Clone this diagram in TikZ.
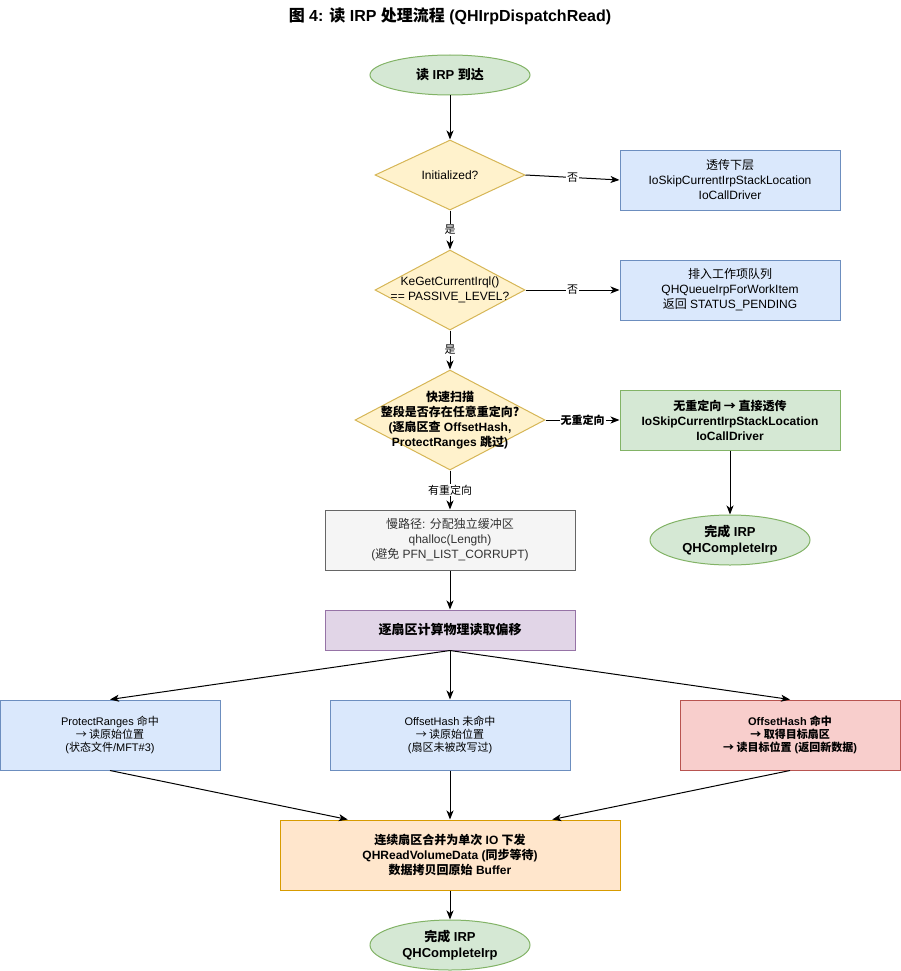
\documentclass[tikz,border=0pt]{standalone}
\usepackage{fontspec}
\setmainfont{Liberation Sans}
\newfontfamily\cjk{Noto Sans CJK SC}
\newcommand\zh[1]{{\cjk #1}}
\newcommand\fsz[2]{\fontsize{#1}{#2}\selectfont}
\usetikzlibrary{shapes.geometric,arrows.meta,calc}
\definecolor{blueF}{HTML}{DAE8FC}\definecolor{blueS}{HTML}{6C8EBF}
\definecolor{yelF}{HTML}{FFF2CC}\definecolor{yelS}{HTML}{D6B656}
\definecolor{grnF}{HTML}{D5E8D4}\definecolor{grnS}{HTML}{82B366}
\definecolor{gryF}{HTML}{F5F5F5}\definecolor{gryS}{HTML}{666666}\definecolor{gryT}{HTML}{333333}
\definecolor{purF}{HTML}{E1D5E7}\definecolor{purS}{HTML}{9673A6}
\definecolor{redF}{HTML}{F8CECC}\definecolor{redS}{HTML}{B85450}
\definecolor{orgF}{HTML}{FFE6CC}\definecolor{orgS}{HTML}{D79B00}
\tikzset{
  base/.style={draw, line width=1pt, align=center, inner sep=0pt, font=\fsz{12}{15}},
  bluebox/.style={base, fill=blueF, draw=blueS, minimum width=220, minimum height=60},
  grnbox/.style={base, fill=grnF, draw=grnS, minimum width=220, minimum height=60, font=\fsz{12}{15}\bfseries},
  term/.style={base, ellipse, fill=grnF, draw=grnS, minimum width=160, font=\fsz{13}{16}\bfseries},
  dia/.style={base, diamond, fill=yelF, draw=yelS},
  dtext/.style={align=center, inner sep=0pt, font=\fsz{12}{15}},
  smallbox/.style={base, minimum width=220, minimum height=70, font=\fsz{11}{13}},
  conn/.style={line width=1pt, -{Stealth[length=9pt,width=7pt,inset=2.5pt]}},
  elabel/.style={fill=white, inner sep=1pt, font=\fsz{11}{13}},
}
\begin{document}
\begin{tikzpicture}[x=1pt,y=-1pt]
\useasboundingbox (0,0) rectangle (901,971);
\node[font=\fsz{16}{18}\bfseries] (title) at (450,16) {\zh{图} 4: \zh{读} IRP \zh{处理流程} (QHIrpDispatchRead)};

\node[term, minimum height=40] (start) at (450,75) {\zh{读} IRP \zh{到达}};

\node[dia, minimum width=150, minimum height=70] (d1) at (450,175) {};
\node[dtext] at (d1) {Initialized?};
\node[bluebox] (b1) at (730,180) {\zh{透传下层}\\IoSkipCurrentIrpStackLocation\\IoCallDriver};

\node[dia, minimum width=150, minimum height=80] (d2) at (450,290) {};
\node[dtext] at (d2) {KeGetCurrentIrql()\\== PASSIVE\_LEVEL?};
\node[bluebox] (b2) at (730,290) {\zh{排入工作项队列}\\QHQueueIrpForWorkItem\\\zh{返回} STATUS\_PENDING};

\node[dia, minimum width=190, minimum height=100] (d3) at (450,420) {};
\node[dtext, font=\fsz{12}{15}\bfseries] at (d3) {\zh{快速扫描}\\\zh{整段是否存在任意重定向?}\\(\zh{逐扇区查} OffsetHash,\\ProtectRanges \zh{跳过})};
\node[grnbox] (b3) at (730,420) {\zh{无重定向 → 直接透传}\\IoSkipCurrentIrpStackLocation\\IoCallDriver};
\node[term, minimum height=50] (end1) at (730,540) {\zh{完成} IRP\\QHCompleteIrp};

\node[base, fill=gryF, draw=gryS, text=gryT, minimum width=250, minimum height=60] (slow) at (450,540) {\zh{慢路径}: \zh{分配独立缓冲区}\\qhalloc(Length)\\(\zh{避免} PFN\_LIST\_CORRUPT)};
\node[base, fill=purF, draw=purS, minimum width=250, minimum height=40, font=\fsz{13}{16}\bfseries] (calc) at (450,630) {\zh{逐扇区计算物理读取偏移}};

\node[smallbox, fill=blueF, draw=blueS] (pl) at (110,735) {ProtectRanges \zh{命中}\\\zh{→ 读原始位置}\\(\zh{状态文件}/MFT\#3)};
\node[smallbox, fill=blueF, draw=blueS, minimum width=240] (pm) at (450,735) {OffsetHash \zh{未命中}\\\zh{→ 读原始位置}\\(\zh{扇区未被改写过})};
\node[smallbox, fill=redF, draw=redS, font=\fsz{11}{13}\bfseries] (pr) at (790,735) {OffsetHash \zh{命中}\\\zh{→ 取得目标扇区}\\\zh{→ 读目标位置} (\zh{返回新数据})};

\node[base, fill=orgF, draw=orgS, minimum width=340, minimum height=70, font=\fsz{12}{15}\bfseries] (merge) at (450,855) {\zh{连续扇区合并为单次} IO \zh{下发}\\QHReadVolumeData (\zh{同步等待})\\\zh{数据拷贝回原始} Buffer};
\node[term, minimum height=50] (end2) at (450,945) {\zh{完成} IRP\\QHCompleteIrp};

\draw[conn] (start) -- (d1);
\draw[conn] (d1.east) -- node[elabel] {\zh{否}} (b1.west);
\draw[conn] (d1.south) -- node[elabel] {\zh{是}} (d2.north);
\draw[conn] (d2.east) -- node[elabel] {\zh{否}} (b2.west);
\draw[conn] (d2.south) -- node[elabel] {\zh{是}} (d3.north);
\draw[conn] (d3.east) -- node[elabel, font=\fsz{11}{13}\bfseries] {\zh{无重定向}} (b3.west);
\draw[conn] (b3.south) -- (end1.north);
\draw[conn] (d3.south) -- node[elabel] {\zh{有重定向}} (slow.north);
\draw[conn] (slow.south) -- (calc.north);
\draw[conn] (calc.south) -- (pl.north);
\draw[conn] (calc.south) -- (pm.north);
\draw[conn] (calc.south) -- (pr.north);
\coordinate (mL) at ($(merge.north west)!0.2!(merge.north east)$);
\coordinate (mR) at ($(merge.north west)!0.8!(merge.north east)$);
\draw[conn] (pl.south) -- (mL);
\draw[conn] (pm.south) -- (merge.north);
\draw[conn] (pr.south) -- (mR);
\draw[conn] (merge.south) -- (end2.north);
\end{tikzpicture}
\end{document}
